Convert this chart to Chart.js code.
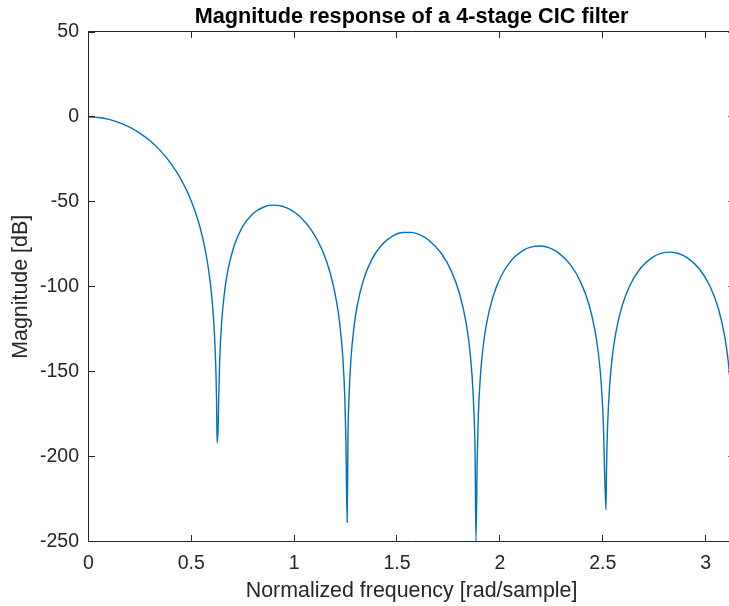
<!DOCTYPE html>
<html>
<head>
<meta charset="utf-8">
<title>Magnitude response of a 4-stage CIC filter</title>
<script src="https://cdn.jsdelivr.net/npm/chart.js@4.4.1/dist/chart.umd.min.js"></script>
<style>
  html, body { margin: 0; padding: 0; overflow: hidden; background: #fff; }
  /* canvas is a bit wider than the window: the right edge of the box is cut off like in the picture */
  #wrap { width: 745px; height: 606px; }
</style>
</head>
<body>
<div id="wrap"><canvas id="myChart" width="745" height="606"></canvas></div>
<script>
// normalized frequency [rad/sample]
var freq = [
  0, 0.05, 0.1, 0.15, 0.2, 0.25, 0.3, 0.35, 0.4, 0.45, 0.5, 0.54, 0.57, 0.593, 0.608, 0.618, 0.623,
  0.6259, 0.632, 0.6333, 0.6383, 0.6483, 0.6633, 0.6783, 0.7083, 0.7483, 0.7983, 0.8583, 0.8983,
  0.9425, 0.9866, 1.0266, 1.0866, 1.1366, 1.1766, 1.2066, 1.2216, 1.2366, 1.2466, 1.2516,
  1.2579, 1.2616, 1.2666, 1.2766, 1.2916, 1.3066, 1.3366, 1.3766, 1.4266, 1.4866, 1.5266,
  1.5708, 1.6149, 1.6549, 1.7149, 1.7649, 1.8049, 1.8349, 1.8499, 1.8649, 1.8749, 1.8799,
  1.8837, 1.8900, 1.8950, 1.9050, 1.9200, 1.9350, 1.9650, 2.0050, 2.0550, 2.1150, 2.1550,
  2.1991, 2.2433, 2.2833, 2.3433, 2.3933, 2.4333, 2.4633, 2.4783, 2.4933, 2.5033, 2.5083,
  2.5157, 2.5183, 2.5233, 2.5333, 2.5483, 2.5633, 2.5933, 2.6333, 2.6833, 2.7433, 2.7833,
  2.8274, 2.8716, 2.9116, 2.9716, 3.0216, 3.0616, 3.0916, 3.1066, 3.1130, 3.1216, 3.1266, 3.1355
];
// magnitude [dB]
var magDb = [
  0, -0.36, -1.45, -3.29, -5.94, -9.48, -14.04, -19.83, -27.15, -36.60, -49.31, -63.62, -79.23, -97.68, -117.6, -141.6, -164.9,
  -191.95, -178.2, -167.62, -143.83, -120.31, -101.75, -90.29, -75.98, -64.89, -57.10, -52.71, -51.87,
  -52.56, -54.88, -58.46, -67.02, -78.34, -92.31, -108.84, -121.41, -141.11, -165.40, -189.58,
  -238.54, -189.82, -165.87, -142.07, -123.09, -111.23, -96.14, -84.09, -75.20, -69.60, -68.02,
  -67.96, -69.56, -72.53, -80.23, -90.88, -104.35, -120.52, -132.92, -152.44, -176.61, -200.73,
  -249.57, -200.86, -176.86, -152.95, -133.80, -121.78, -106.38, -93.92, -84.54, -78.38, -76.44,
  -75.99, -77.22, -79.87, -87.10, -97.37, -110.54, -126.49, -138.78, -158.20, -182.30, -206.39,
  -231.17, -206.44, -182.41, -158.43, -139.18, -127.06, -111.45, -98.73, -89.02, -82.48, -80.29,
  -79.57, -80.53, -82.94, -89.81, -99.80, -112.74, -128.52, -140.73, -147.7, -160.06, -170.03, -201.05
];
// tick labels
var xTicks = [0, 0.5, 1, 1.5, 2, 2.5, 3];
var yTicks = [50, 0, -50, -100, -150, -200, -250];
var xMax = 3.14159;
var yMin = -250;
var yMax = 50;

var titleText = 'Magnitude response of a 4-stage CIC filter';
var xLabel = 'Normalized frequency [rad/sample]';
var yLabel = 'Magnitude [dB]';

var fontFamily = '"Liberation Sans", Arial, Helvetica, sans-serif';
var axisColor = '#262626';

// title over the middle of the plot box
var titlePlugin = {
  id: 'plotTitle',
  afterDraw: function(chart) {
    var ctx = chart.ctx;
    var a = chart.chartArea;
    ctx.save();
    ctx.font = 'bold 21.7px ' + fontFamily;
    ctx.fillStyle = '#000';
    ctx.textAlign = 'center';
    ctx.textBaseline = 'alphabetic';
    ctx.fillText(titleText, (a.left + a.right) / 2, 22.7);
    ctx.restore();
  }
};

// box round the plot with inward tick marks on all four sides
var boxPlugin = {
  id: 'axesBox',
  afterDraw: function(chart) {
    var ctx = chart.ctx;
    var a = chart.chartArea;
    var xs = chart.scales.x;
    var ys = chart.scales.y;
    var len = 6.5;
    var top = Math.round(a.top) - 0.5;
    var bottom = Math.round(a.bottom) - 0.5;
    var left = Math.round(a.left) + 0.5;
    var right = a.right;
    ctx.save();
    ctx.strokeStyle = axisColor;
    ctx.lineWidth = 1;
    ctx.beginPath();
    ctx.moveTo(left, top);
    ctx.lineTo(right, top);
    ctx.lineTo(right, bottom);
    ctx.lineTo(left, bottom);
    ctx.closePath();
    xTicks.forEach(function(v) {
      var px = Math.round(xs.getPixelForValue(v) - 0.5) + 0.5;
      ctx.moveTo(px, bottom);
      ctx.lineTo(px, bottom - len);
      ctx.moveTo(px, top);
      ctx.lineTo(px, top + len);
    });
    yTicks.forEach(function(v) {
      var py = Math.round(ys.getPixelForValue(v) - 0.5) + 0.5;
      ctx.moveTo(left, py);
      ctx.lineTo(left + len, py);
      ctx.moveTo(right, py);
      ctx.lineTo(right - len, py);
    });
    ctx.stroke();
    ctx.restore();
  }
};

var points = freq.map(function(f, i) {
  return { x: f, y: magDb[i] };
});

var ctx = document.getElementById('myChart').getContext('2d');
var myChart = new Chart(ctx, {
  type: 'line',
  data: {
    datasets: [{
      label: yLabel,
      data: points,
      borderColor: '#0072bd',
      borderWidth: 1.4,
      pointRadius: 0,
      fill: false,
      cubicInterpolationMode: 'monotone'
    }]
  },
  options: {
    responsive: false,
    animation: false,
    devicePixelRatio: 1,
    layout: {
      padding: { top: 32, right: 10.2, left: 0, bottom: 0 }
    },
    plugins: {
      legend: { display: false },
      tooltip: { enabled: false },
      title: { display: false }
    },
    scales: {
      x: {
        type: 'linear',
        min: 0,
        max: xMax,
        grid: { display: false, drawTicks: false },
        border: { display: false },
        afterBuildTicks: function(scale) {
          scale.ticks = xTicks.map(function(v) { return { value: v }; });
        },
        afterFit: function(scale) {
          scale.height = 64.3;
          scale.paddingLeft = 0;
          scale.paddingRight = 0;
        },
        ticks: {
          color: axisColor,
          padding: 10.4,
          maxRotation: 0,
          autoSkip: false,
          font: { family: fontFamily, size: 19.5 },
          callback: function(v) { return String(v); }
        },
        title: {
          display: true,
          text: xLabel,
          color: axisColor,
          font: { family: fontFamily, size: 21.4 },
          padding: { top: 0, bottom: 2.3 }
        }
      },
      y: {
        type: 'linear',
        min: yMin,
        max: yMax,
        grid: { display: false, drawTicks: false },
        border: { display: false },
        afterBuildTicks: function(scale) {
          scale.ticks = yTicks.map(function(v) { return { value: v }; });
        },
        afterFit: function(scale) {
          scale.width = 88.3;
          scale.paddingTop = 0;
          scale.paddingBottom = 0;
        },
        ticks: {
          color: axisColor,
          padding: 9.3,
          autoSkip: false,
          font: { family: fontFamily, size: 19.5 },
          callback: function(v) { return String(v); }
        },
        title: {
          display: true,
          text: yLabel,
          color: axisColor,
          font: { family: fontFamily, size: 21.4 },
          padding: { top: 8.2, bottom: 0 }
        }
      }
    }
  },
  plugins: [boxPlugin, titlePlugin]
});
</script>
</body>
</html>
